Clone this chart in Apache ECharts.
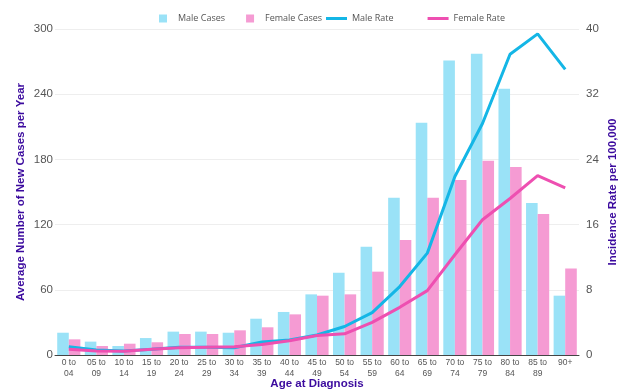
<!DOCTYPE html>
<html><head><meta charset="utf-8">
<script src="https://cdn.jsdelivr.net/npm/echarts@6/dist/echarts.min.js"></script>
<style>html,body{margin:0;padding:0;background:#fff}#c{width:633px;height:391px}</style>
</head><body><div id="c"></div>
<script>
const categories = ["0 to\n04","05 to\n09","10 to\n14","15 to\n19","20 to\n24","25 to\n29","30 to\n34","35 to\n39","40 to\n44","45 to\n49","50 to\n54","55 to\n59","60 to\n64","65 to\n69","70 to\n74","75 to\n79","80 to\n84","85 to\n89","90+"];
const maleCases = [20.5,12.3,8.3,15.6,21.5,21.5,20.5,33.4,39.6,55.8,75.7,99.6,144.7,213.7,271.1,277.2,245,139.8,54.6];
const femaleCases = [14.4,8.3,10.4,11.7,19.3,19.3,22.7,25.5,37.4,54.6,55.8,76.7,105.8,144.7,161,178.8,173,129.7,79.7];
const maleRate = [1.0,0.6,0.5,0.7,0.95,0.95,0.9,1.6,1.85,2.45,3.5,5.2,8.4,12.5,21.9,28.4,36.9,39.4,35.05];
const femaleRate = [0.7,0.5,0.45,0.7,0.9,0.95,1.0,1.3,1.75,2.4,2.6,4.0,5.85,7.9,12.3,16.6,19.2,22.0,20.5];
const leftTicks = [0,60,120,180,240,300];
const rightTicks = [0,8,16,24,32,40];

const maleBar = '#9ae2f7', femaleBar = '#f59bd3', maleLine = '#14b6e6', femaleLine = '#ee4fb1', titleColor = '#3b0a9e';
const chart = echarts.init(document.getElementById('c'), null, {renderer:'canvas'});
const font = 'Open Sans';
chart.setOption({
  animation:false,
  textStyle:{fontFamily:font},
  grid:{left:55,right:54,top:29,bottom:36,containLabel:false,outerBoundsMode:'none'},
  legend:[
    {data:['Male Cases','Female Cases'],left:154,top:9,icon:'rect',itemWidth:8,itemHeight:8,itemGap:21,
     textStyle:{color:'#555',fontSize:9,fontFamily:font,padding:[0,0,0,6]}},
    {data:['Male Rate','Female Rate'],left:321,top:9,icon:'rect',itemWidth:21,itemHeight:3,itemGap:34,
     textStyle:{color:'#555',fontSize:9,fontFamily:font,padding:[0,0,0,0]}}
  ],
  xAxis:{type:'category',data:categories,
    name:'Age at Diagnosis',nameLocation:'middle',nameGap:23,nameMoveOverlap:false,
    nameTextStyle:{color:titleColor,fontWeight:'bold',fontSize:11.5,fontFamily:'Liberation Sans'},
    axisLine:{lineStyle:{color:'#444',width:1}},axisTick:{show:false},
    axisLabel:{color:'#555',fontSize:8.5,fontFamily:'Liberation Sans',interval:0,lineHeight:11,margin:2}},
  yAxis:[
    {type:'value',min:0,max:300,interval:60,
     name:'Average Number of New Cases per Year',nameLocation:'middle',nameGap:28,nameMoveOverlap:false,
     nameTextStyle:{color:titleColor,fontWeight:'bold',fontSize:11.5,fontFamily:'Liberation Sans'},
     axisLabel:{color:'#555',fontSize:11.5,fontFamily:'Liberation Sans',margin:2,
       formatter:v=>leftTicks.includes(v)?String(v):''},
     splitLine:{lineStyle:{color:'#eee'}},axisLine:{show:false},axisTick:{show:false}},
    {type:'value',min:0,max:40,interval:8,position:'right',
     name:'Incidence Rate per 100,000',nameLocation:'middle',nameGap:28,nameRotate:90,nameMoveOverlap:false,
     nameTextStyle:{color:titleColor,fontWeight:'bold',fontSize:11.5,fontFamily:'Liberation Sans'},
     axisLabel:{color:'#555',fontSize:11.5,fontFamily:'Liberation Sans',margin:7,
       formatter:v=>rightTicks.includes(v)?String(v):''},
     splitLine:{show:false},axisLine:{show:false},axisTick:{show:false}}
  ],
  series:[
    {name:'Male Cases',type:'bar',data:maleCases,itemStyle:{color:maleBar},barGap:'0%',barCategoryGap:'16%'},
    {name:'Female Cases',type:'bar',data:femaleCases,itemStyle:{color:femaleBar}},
    {name:'Male Rate',type:'line',yAxisIndex:1,data:maleRate,symbol:'none',lineStyle:{color:maleLine,width:3},itemStyle:{color:maleLine}},
    {name:'Female Rate',type:'line',yAxisIndex:1,data:femaleRate,symbol:'none',lineStyle:{color:femaleLine,width:3},itemStyle:{color:femaleLine}}
  ]
});
</script></body></html>
